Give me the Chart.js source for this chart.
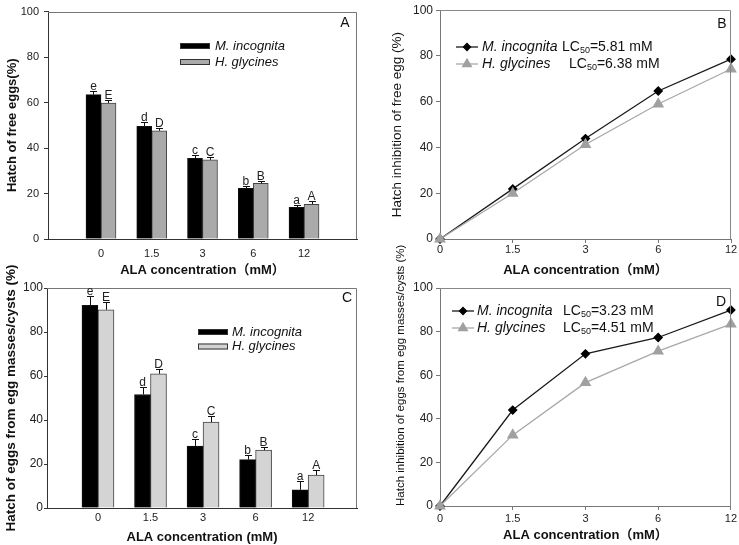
<!DOCTYPE html>
<html>
<head>
<meta charset="utf-8">
<title>ALA hatch</title>
<script src="https://cdn.jsdelivr.net/npm/chart.js@4.4.1/dist/chart.umd.min.js"></script>
<style>
  body { margin: 0; background: #fff; }
  #wrap { position: relative; width: 739px; height: 545px; overflow: hidden; }
  canvas { position: absolute; }
</style>
</head>
<body>
<div id="wrap">
  <canvas id="chartA" width="370" height="282" style="left:0;top:0"></canvas>
  <canvas id="chartB" width="369" height="282" style="left:370px;top:0"></canvas>
  <canvas id="chartC" width="370" height="300" style="left:0;top:245px"></canvas>
  <canvas id="chartD" width="369" height="300" style="left:370px;top:245px"></canvas>
</div>
<script>
// Data
const concLabels = ['0', '1.5', '3', '6', '12'];
const yTicks = [0, 20, 40, 60, 80, 100];
const lettersMi = ['e', 'd', 'c', 'b', 'a'];
const lettersHg = ['E', 'D', 'C', 'B', 'A'];

// A - hatch of free eggs (%)
const freeHatchMi = [63.5, 49.6, 35.5, 22.3, 13.9];
const freeHatchMiErr = [1.6, 2.0, 1.6, 1.2, 1.0];
const freeHatchHg = [59.8, 47.6, 34.8, 24.5, 15.3];
const freeHatchHgErr = [1.4, 1.3, 1.2, 0.9, 1.4];

// C - hatch of eggs from egg masses/cysts (%)
const massHatchMi = [92.1, 51.6, 28.2, 22.0, 8.3];
const massHatchMiErr = [4.4, 3.2, 3.0, 2.2, 4.0];
const massHatchHg = [90.1, 61.0, 39.0, 26.3, 15.0];
const massHatchHgErr = [3.5, 2.4, 2.6, 1.6, 2.3];

// B, D - hatch inhibition (%)
const freeInhibMi = [0, 21.9, 43.9, 64.7, 78.6];
const freeInhibHg = [0, 20.0, 41.3, 59.0, 74.3];
const massInhibMi = [0, 44.0, 69.8, 77.3, 89.9];
const massInhibHg = [0, 32.5, 56.6, 71.0, 83.4];
const lcFree = ['5.81', '6.38'];
const lcMass = ['3.23', '4.51'];

const FONT = "'Liberation Sans', Arial, 'Noto Sans CJK SC', sans-serif";

// LC50 text with subscript
function drawLC(ctx, x, y, val, size) {
    ctx.font = size + 'px ' + FONT;
    ctx.fillText('LC', x, y);
    x += ctx.measureText('LC').width;
    ctx.font = Math.round(size * 0.65) + 'px ' + FONT;
    ctx.fillText('50', x, y + size * 0.25);
    x += ctx.measureText('50').width;
    ctx.font = size + 'px ' + FONT;
    ctx.fillText('=' + val + ' mM', x, y);
}

// frame, panel letter, error bars, legend
const decor = {
    id: 'decor',
    afterDatasetsDraw(chart, args, o) {
        const ctx = chart.ctx, a = chart.chartArea;
        ctx.save();
        const L = Math.round(a.left), T = Math.round(a.top) + 0.5, R = Math.round(a.right) - 0.5, B = Math.round(a.bottom);
        ctx.strokeStyle = o.frame;
        ctx.lineWidth = 1;
        ctx.beginPath();
        ctx.moveTo(L, T); ctx.lineTo(R, T); ctx.lineTo(R, B);
        ctx.stroke();

        // error bars + letters
        chart.data.datasets.forEach((ds, di) => {
            if (!ds.errors) return;
            const y = chart.scales.y;
            chart.getDatasetMeta(di).data.forEach((bar, i) => {
                const x = Math.round(bar.x) + 0.5;
                const top = Math.round(y.getPixelForValue(ds.data[i].y + ds.errors[i])) + 0.5;
                ctx.strokeStyle = '#111';
                ctx.lineWidth = 1;
                ctx.beginPath();
                ctx.moveTo(x, bar.y); ctx.lineTo(x, top);
                ctx.moveTo(x - 3.5, top); ctx.lineTo(x + 3.5, top);
                ctx.stroke();
                ctx.fillStyle = '#222';
                ctx.font = o.markSize + 'px ' + FONT;
                ctx.textAlign = 'center';
                ctx.textBaseline = 'alphabetic';
                ctx.fillText(ds.letters[i], bar.x, top - 2);
            });
        });

        // legend
        const lg = o.legend;
        chart.data.datasets.forEach((ds, i) => {
            const y = lg.y + i * lg.dy;
            if (lg.kind === 'bar') {
                ctx.fillStyle = ds.backgroundColor;
                ctx.fillRect(lg.x, y - 3, 30, 6);
                ctx.strokeStyle = '#333';
                ctx.lineWidth = 1;
                ctx.strokeRect(lg.x + 0.5, y - 2.5, 29, 5);
            } else {
                ctx.strokeStyle = ds.borderColor;
                ctx.lineWidth = ds.borderWidth;
                ctx.beginPath();
                ctx.moveTo(lg.x, y); ctx.lineTo(lg.x + 22, y);
                ctx.stroke();
                ctx.fillStyle = ds.pointBackgroundColor;
                ctx.strokeStyle = ds.pointBorderColor;
                Chart.helpers.drawPoint(ctx, { pointStyle: ds.pointStyle, radius: ds.pointRadius - 0.5, rotation: 0, borderWidth: 1 }, lg.x + 11, y);
            }
            ctx.fillStyle = '#111';
            ctx.textAlign = 'left';
            ctx.textBaseline = 'middle';
            ctx.font = 'italic ' + lg.size + 'px ' + FONT;
            ctx.fillText(ds.label, lg.x + lg.tx, y);
            if (lg.lc) drawLC(ctx, lg.lcX[i], y, lg.lc[i], lg.size);
        });

        // panel letter
        ctx.fillStyle = '#111';
        ctx.font = '14px ' + FONT;
        ctx.textAlign = 'center';
        ctx.textBaseline = 'middle';
        ctx.fillText(o.letter.text, o.letter.x, o.letter.y);
        ctx.restore();
    }
};

function yAxis(o) {
    return {
        min: 0, max: 100,
        afterBuildTicks: s => { s.ticks = yTicks.map(v => ({ value: v })); },
        afterFit: s => { s.width = o.width; },
        grid: { drawOnChartArea: false, tickLength: o.tick, color: o.axis },
        border: { color: o.axis },
        ticks: { padding: o.pad, color: '#222', font: { family: FONT, size: o.size } },
        title: {
            display: true, text: o.title, color: '#111', align: o.align || 'center',
            font: { family: FONT, size: o.titleSize, weight: o.bold ? 'bold' : 'normal' },
            padding: { top: o.titlePad, bottom: 0 }
        }
    };
}

function xTitle(text, size) {
    return { display: true, text: text, color: '#111', font: { family: FONT, size: size, weight: 'bold' }, padding: { top: 0, bottom: 0 } };
}

function barPanel(id, mi, miErr, hg, hgErr, o) {
    return new Chart(document.getElementById(id), {
        type: 'bar',
        data: {
            datasets: [
                { label: 'M. incognita', data: mi.map((v, i) => ({ x: i, y: v })), errors: miErr, letters: lettersMi,
                  backgroundColor: '#000', borderColor: '#111', borderWidth: 1, barThickness: o.bar },
                { label: 'H. glycines', data: hg.map((v, i) => ({ x: i, y: v })), errors: hgErr, letters: lettersHg,
                  backgroundColor: o.grey, borderColor: '#444', borderWidth: 1, barThickness: o.bar }
            ]
        },
        options: {
            responsive: false, animation: false,
            layout: { padding: o.pad },
            plugins: { legend: { display: false }, tooltip: { enabled: false }, decor: o.decor },
            scales: {
                x: {
                    type: 'linear', min: o.xMin, max: o.xMax, offset: false,
                    afterBuildTicks: s => { s.ticks = concLabels.map((c, i) => ({ value: i })); },
                    afterFit: s => { s.height = o.xH; },
                    grid: { display: false, drawTicks: false, offset: false },
                    border: { color: '#333' },
                    ticks: { padding: o.xPad, color: '#222', font: { family: FONT, size: 11 }, callback: v => concLabels[v] },
                    title: xTitle(o.xTitle, 13)
                },
                y: yAxis(o.y)
            }
        },
        plugins: [decor]
    });
}

function linePanel(id, mi, hg, o) {
    return new Chart(document.getElementById(id), {
        type: 'line',
        data: {
            labels: concLabels,
            datasets: [
                { label: 'M. incognita', data: mi, borderColor: '#1a1a1a', borderWidth: 1.3, tension: 0, clip: false,
                  pointStyle: 'rectRot', pointRadius: 4, pointBackgroundColor: '#000', pointBorderColor: '#000', order: 1 },
                { label: 'H. glycines', data: hg, borderColor: '#a8a8a8', borderWidth: 1.3, tension: 0, clip: false,
                  pointStyle: 'triangle', pointRadius: 5.5, pointBackgroundColor: '#a0a0a0', pointBorderColor: '#a0a0a0', order: 0 }
            ]
        },
        options: {
            responsive: false, animation: false,
            layout: { padding: o.pad },
            plugins: { legend: { display: false }, tooltip: { enabled: false }, decor: o.decor },
            scales: {
                x: {
                    offset: false,
                    afterFit: s => { s.height = o.xH; },
                    grid: { drawOnChartArea: false, tickLength: 4, color: '#777' },
                    border: { color: '#777' },
                    ticks: { padding: o.xPad, color: '#222', font: { family: FONT, size: 11 }, autoSkip: false, maxRotation: 0 },
                    title: xTitle('ALA concentration（mM）', 13)
                },
                y: yAxis(o.y)
            }
        },
        plugins: [decor]
    });
}

barPanel('chartA', freeHatchMi, freeHatchMiErr, freeHatchHg, freeHatchHgErr, {
    bar: 15, grey: '#aaaaaa', xMin: -1.044, xMax: 5.044, xH: 39, xPad: 8,
    pad: { left: 0, top: 7, right: 13, bottom: 4 },
    xTitle: 'ALA concentration（mM）',
    y: { width: 48, tick: 4, pad: 5, size: 11, axis: '#333', title: 'Hatch of free eggs(%)', titleSize: 13, bold: true, titlePad: 5 },
    decor: { frame: '#777', markSize: 12, letter: { text: 'A', x: 345, y: 23 },
             legend: { kind: 'bar', x: 180, y: 46, dy: 16, tx: 35, size: 13 } }
});

linePanel('chartB', freeInhibMi, freeInhibHg, {
    xH: 39, xPad: 0,
    pad: { left: 0, top: 7, right: 8, bottom: 4 },
    y: { width: 70, tick: 4, pad: 3, size: 12, axis: '#777', title: 'Hatch inhibition of free egg (%)', titleSize: 13.5, bold: false, titlePad: 19.5 },
    decor: { frame: '#888', letter: { text: 'B', x: 352, y: 24 },
             legend: { kind: 'line', x: 86, y: 47, dy: 17, tx: 26, size: 14, lc: lcFree, lcX: [192, 199] } }
});

barPanel('chartC', massHatchMi, massHatchMiErr, massHatchHg, massHatchHgErr, {
    bar: 16, grey: '#d4d4d4', xMin: -0.97, xMax: 4.93, xH: 37, xPad: 3,
    pad: { left: 0, top: 43, right: 13, bottom: 0 },
    xTitle: 'ALA concentration (mM)',
    y: { width: 47, tick: 3, pad: 1, size: 12, axis: '#333', title: 'Hatch of eggs from egg masses/cysts (%)', titleSize: 13.5, bold: true, titlePad: 3 },
    decor: { frame: '#777', markSize: 12, letter: { text: 'C', x: 347, y: 53 },
             legend: { kind: 'bar', x: 198, y: 87, dy: 14.5, tx: 34, size: 13 } }
});

linePanel('chartD', massInhibMi, massInhibHg, {
    xH: 37, xPad: 2,
    pad: { left: 0, top: 43, right: 8, bottom: 2 },
    y: { width: 70, tick: 4, pad: 3, size: 12, axis: '#777', title: 'Hatch inhibition of eggs from egg masses/cysts (%)', titleSize: 11.5, bold: false, titlePad: 23.5, align: 'start' },
    decor: { frame: '#888', letter: { text: 'D', x: 351, y: 57 },
             legend: { kind: 'line', x: 82, y: 66, dy: 17, tx: 25, size: 14, lc: lcMass, lcX: [193, 193] } }
});
</script>
</body>
</html>
